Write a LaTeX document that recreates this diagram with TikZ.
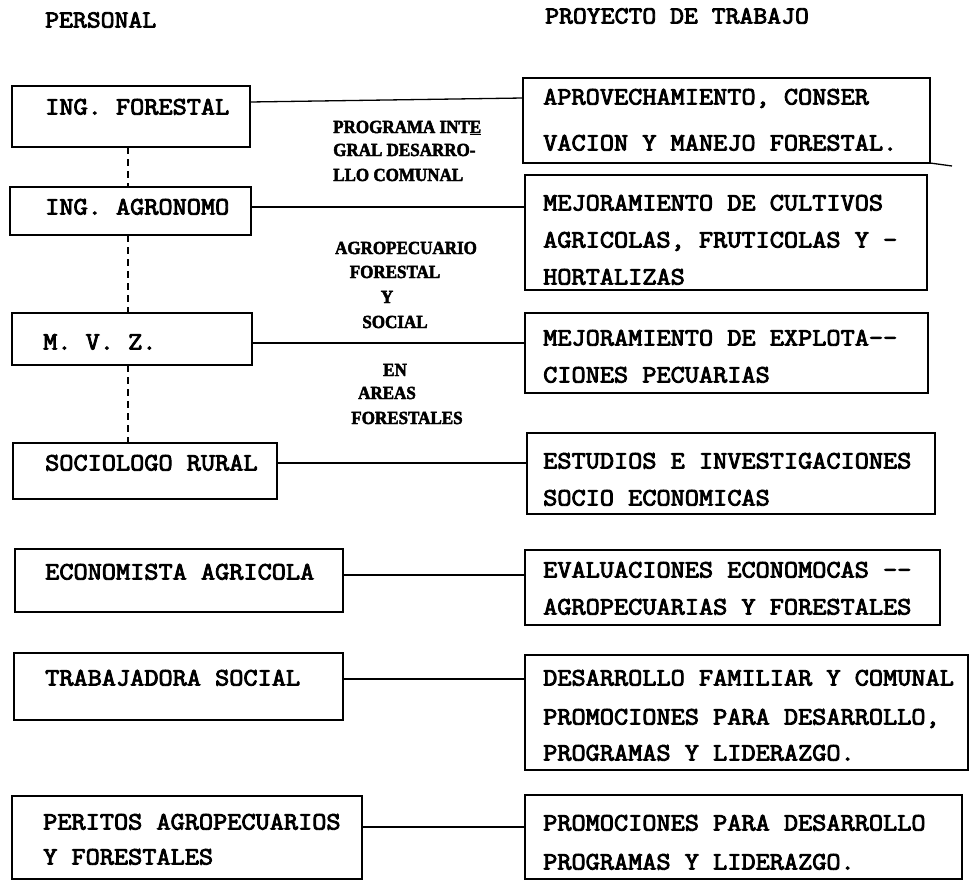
\documentclass[tikz,border=0pt]{standalone}
\usepackage{fontspec}
\newfontfamily\typew{Latin Modern Mono}[FakeBold=3.5, FakeStretch=1.1]
\newfontfamily\midfont{Liberation Serif}[FakeBold=2.5, FakeStretch=0.92]
\begin{document}
\begin{tikzpicture}[x=1pt,y=-1pt,
  box/.style={draw, line width=1.5pt, anchor=north west, inner sep=0pt, outer sep=0pt},
  txt/.style={anchor=west, inner sep=0pt, text height=15pt, text depth=0pt, font=\typew\fontsize{25}{30}\selectfont},
  hdr/.style={anchor=west, inner sep=0pt, text height=15pt, text depth=0pt, font=\typew\fontsize{24.5}{30}\selectfont},
  mid/.style={inner sep=0pt, text height=12pt, text depth=0pt, font=\midfont\bfseries\fontsize{18.5}{22}\selectfont},
  link/.style={line width=1.3pt},
  dashlink/.style={line width=1.2pt, dash pattern=on 7pt off 5pt}]
\useasboundingbox (0,0) rectangle (971,881);

% headers
\node[hdr] (h1) at (45,20) {PERSONAL};
\node[hdr] (h2) at (545,16) {PROYECTO DE TRABAJO};

% left boxes
\node[box, minimum width=238, minimum height=61] (pf) at (12,86) {};
\node[box, minimum width=241, minimum height=48] (pa) at (10,187) {};
\node[box, minimum width=240, minimum height=52] (pm) at (12,313) {};
\node[box, minimum width=264, minimum height=56] (ps) at (13,443) {};
\node[box, minimum width=328, minimum height=63] (pe) at (15,549) {};
\node[box, minimum width=329, minimum height=67] (pt) at (14,653) {};
\node[box, minimum width=350, minimum height=83] (pp) at (12,796) {};

\node[txt] (tf) at (45,107) {ING. FORESTAL};
\node[txt] (ta) at (45,207) {ING. AGRONOMO};
\node[txt] (tm) at (43,342) {M. V. Z.};
\node[txt] (ts) at (45,463) {SOCIOLOGO RURAL};
\node[txt] (te) at (45,572) {ECONOMISTA AGRICOLA};
\node[txt] (tt) at (45,678) {TRABAJADORA SOCIAL};
\node[txt] (tp1) at (43,822) {PERITOS AGROPECUARIOS};
\node[txt] (tp2) at (43,857) {Y FORESTALES};

% right boxes
\node[box, minimum width=407, minimum height=85] (ra) at (523,78) {};
\node[box, minimum width=402, minimum height=115] (rb) at (525,175) {};
\node[box, minimum width=403, minimum height=80] (rc) at (525,313) {};
\node[box, minimum width=408, minimum height=81] (rd) at (527,433) {};
\node[box, minimum width=415, minimum height=75] (re) at (525,550) {};
\node[box, minimum width=443, minimum height=115] (rf) at (525,655) {};
\node[box, minimum width=437, minimum height=84] (rg) at (525,795) {};

\node[txt] (ra1) at (543,97) {APROVECHAMIENTO, CONSER};
\node[txt] (ra2) at (543,143) {VACION Y MANEJO FORESTAL.};
\node[txt] (rb1) at (543,203) {MEJORAMIENTO DE CULTIVOS};
\node[txt] (rb2) at (543,240) {AGRICOLAS, FRUTICOLAS Y -};
\node[txt] (rb3) at (543,277) {HORTALIZAS};
\node[txt] (rc1) at (543,338) {MEJORAMIENTO DE EXPLOTA--};
\node[txt] (rc2) at (543,375) {CIONES PECUARIAS};
\node[txt] (rd1) at (543,461) {ESTUDIOS E INVESTIGACIONES};
\node[txt] (rd2) at (543,498) {SOCIO ECONOMICAS};
\node[txt] (re1) at (543,570) {EVALUACIONES ECONOMOCAS --};
\node[txt] (re2) at (543,607) {AGROPECUARIAS Y FORESTALES};
\node[txt] (rf1) at (543,678) {DESARROLLO FAMILIAR Y COMUNAL};
\node[txt] (rf2) at (543,717) {PROMOCIONES PARA DESARROLLO,};
\node[txt] (rf3) at (543,753) {PROGRAMAS Y LIDERAZGO.};
\node[txt] (rg1) at (543,823) {PROMOCIONES PARA DESARROLLO};
\node[txt] (rg2) at (543,862) {PROGRAMAS Y LIDERAZGO.};

% middle texts
\node[mid, anchor=west] (m1) at (333,127) {PROGRAMA INT\underline{E}};
\node[mid, anchor=west] (m2) at (333,150) {GRAL DESARRO-};
\node[mid, anchor=west] (m3) at (333,175) {LLO COMUNAL};
\node[mid] (m4) at (406,248) {AGROPECUARIO};
\node[mid] (m5) at (395,272) {FORESTAL};
\node[mid] (m6) at (387,297) {Y};
\node[mid] (m7) at (395,322) {SOCIAL};
\node[mid] (m8) at (395,370) {EN};
\node[mid] (m9) at (387,393) {AREAS};
\node[mid] (m10) at (407,418) {FORESTALES};

% connectors
\draw[link] (pf.east |- 0,102) -- (ra.west |- 0,98);
\draw[link] (pa.east |- 0,207) -- (rb.west |- 0,207);
\draw[link] (pm.east |- 0,343) -- (rc.west |- 0,343);
\draw[link] (ps.east |- 0,463) -- (rd.west |- 0,463);
\draw[link] (pe.east |- 0,575) -- (re.west |- 0,575);
\draw[link] (pt.east |- 0,679) -- (rf.west |- 0,679);
\draw[link] (pp.east |- 0,827) -- (rg.west |- 0,827);
\draw[link] (ra.south east) -- ++(22,3);

% dashed vertical links
\draw[dashlink] (pf.south -| 128,0) -- (pa.north -| 128,0);
\draw[dashlink] (pa.south -| 128,0) -- (pm.north -| 128,0);
\draw[dashlink] (pm.south -| 128,0) -- (ps.north -| 128,0);
\end{tikzpicture}
\end{document}
